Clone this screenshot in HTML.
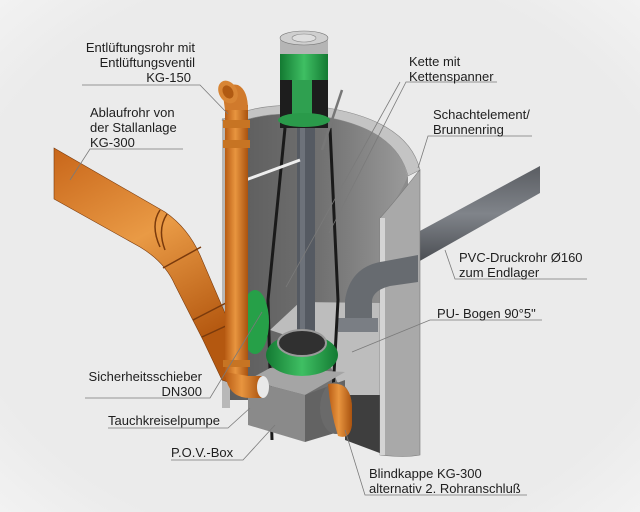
<!DOCTYPE html>
<html><head><meta charset="utf-8"><style>
html,body{margin:0;padding:0;}
body{width:640px;height:512px;overflow:hidden;background:#ececec;}
svg{display:block;}
text{font-family:"Liberation Sans",sans-serif;font-size:13px;fill:#1e1e1e;}
</style></head><body>
<svg width="640" height="512" viewBox="0 0 640 512" xmlns="http://www.w3.org/2000/svg">
<defs>
<radialGradient id="bg" cx="50%" cy="50%" r="75%"><stop offset="0.75" stop-color="#ebebeb"/><stop offset="1" stop-color="#f4f4f4"/></radialGradient>
<linearGradient id="org" x1="0" x2="1"><stop offset="0" stop-color="#b85c14"/><stop offset="0.45" stop-color="#e8953f"/><stop offset="1" stop-color="#a9520f"/></linearGradient>
<linearGradient id="orgd" x1="0" y1="0" x2="0.4" y2="1"><stop offset="0" stop-color="#c8661a"/><stop offset="0.5" stop-color="#e99a45"/><stop offset="1" stop-color="#b45810"/></linearGradient>
<linearGradient id="wallin" x1="0" x2="1"><stop offset="0" stop-color="#5c5c5c"/><stop offset="0.5" stop-color="#707070"/><stop offset="1" stop-color="#9a9a9a"/></linearGradient>
<linearGradient id="grn" x1="0" x2="1"><stop offset="0" stop-color="#137a32"/><stop offset="0.5" stop-color="#3fbf63"/><stop offset="1" stop-color="#137a32"/></linearGradient>
<linearGradient id="gp" x1="0" y1="0" x2="0" y2="1"><stop offset="0" stop-color="#5a5d62"/><stop offset="0.5" stop-color="#80848a"/><stop offset="1" stop-color="#4a4d52"/></linearGradient>
</defs>
<rect width="640" height="512" fill="url(#bg)"/>

<polygon points="418,232 540,166 540,193 418,262" fill="url(#gp)"/>
<rect x="222" y="118" width="8" height="290" fill="#b8b8b8"/>
<path d="M230,124 Q265,108 320,116 Q398,128 408,178 L408,400 L230,400 Z" fill="url(#wallin)"/>
<path d="M222,120 Q262,100 322,107 Q408,120 420,170 L408,176 Q396,128 320,116 Q265,109 230,126 Z" fill="#c4c4c4" stroke="#888" stroke-width="0.6"/>
<path d="M408,176 L408,440 Q392,440 385,420 L385,215 Q400,195 408,176 Z" fill="#8c8c8c"/>
<polygon points="270,330 300,302 380,303 395,330 385,400 345,400 330,365 300,340" fill="#bdbdbd"/>
<polygon points="345,395 385,395 385,455 345,440" fill="#3e3e3e"/>
<path d="M380,218 Q392,205 418,172 L420,170 L420,455 Q405,458 380,455 Z" fill="#a9a9a9" stroke="#777" stroke-width="0.6"/>
<rect x="380" y="218" width="5" height="237" fill="#d4d4d4"/>
<path d="M418,255 L380,262 Q350,268 345,300 L345,330 L372,330 L372,300 Q374,290 390,286 L418,282 Z" fill="#676b70"/>
<rect x="338" y="318" width="40" height="14" fill="#7a7e84"/>
<rect x="297" y="128" width="18" height="210" fill="#555a62"/>
<rect x="300" y="128" width="5" height="210" fill="#6d727a"/>
<path d="M285,128 L268,300 L272,440 M330,128 L338,300 L332,410" stroke="#1a1a1a" stroke-width="3" fill="none"/>
<line x1="232" y1="185" x2="300" y2="160" stroke="#eee" stroke-width="3"/>
<line x1="322" y1="150" x2="342" y2="90" stroke="#777" stroke-width="2.5"/>
<polygon points="248,380 270,368 345,372 305,395" fill="#a5a5a5"/>
<polygon points="248,380 305,395 305,442 248,425" fill="#8a8a8a"/>
<polygon points="305,395 345,380 345,430 305,442" fill="#636363"/>
<ellipse cx="336" cy="408" rx="16" ry="26" fill="#6a6a6a"/>
<path d="M328,384 Q350,380 352,405 L352,425 Q350,440 338,436 Q330,410 328,384 Z" fill="url(#org)"/>
<ellipse cx="255" cy="322" rx="14" ry="32" fill="#26a048"/>
<ellipse cx="302" cy="355" rx="36" ry="21" fill="url(#grn)"/>
<ellipse cx="302" cy="343" rx="24" ry="13" fill="#303030" stroke="#999" stroke-width="2"/>
<!-- drain pipe -->
<path d="M54,148 L165,212 Q188,228 200,255 L228,320 L228,382 L222,380 L203,340 L175,285 Q165,262 140,247 L54,199 Z" fill="url(#orgd)" stroke="#7a3a0c" stroke-width="0.6"/>
<path d="M160,210 Q150,225 160,247 M167,214 Q157,229 165,250 M163,268 L201,247 M193,320 L226,303 M202,337 L228,325" stroke="#7a3a0c" stroke-width="1.5" fill="none"/>
<!-- vent pipe -->
<rect x="225" y="105" width="23" height="272" fill="url(#org)"/>
<rect x="223" y="120" width="27" height="8" fill="#c77423"/>
<rect x="223" y="140" width="27" height="8" fill="#c77423"/>
<rect x="223" y="360" width="27" height="7" fill="#c77423"/>
<path d="M225,372 Q227,398 250,398 L262,398 L262,376 L248,376 Z" fill="url(#org)"/>
<ellipse cx="263" cy="387" rx="6" ry="11" fill="#e9e9e9"/>
<path d="M225,110 L223,95 Q225,82 238,85 Q248,90 248,110 Z" fill="#d07a2c"/>
<ellipse cx="228" cy="92" rx="9" ry="12" fill="#d88534" transform="rotate(-30 228 92)"/>
<ellipse cx="228" cy="92" rx="5" ry="7" fill="#b05a12" transform="rotate(-30 228 92)"/>
<!-- motor -->
<rect x="280" y="45" width="48" height="83" fill="#1d1d1d"/>
<rect x="292" y="80" width="20" height="35" fill="#2fa050"/>
<rect x="280" y="52" width="48" height="28" fill="url(#grn)"/>
<rect x="280" y="38" width="48" height="16" fill="#b5b5b5"/>
<ellipse cx="304" cy="38" rx="24" ry="7" fill="#cfcfcf" stroke="#777" stroke-width="0.6"/>
<ellipse cx="304" cy="38" rx="12" ry="4" fill="#dedede" stroke="#888" stroke-width="0.6"/>
<ellipse cx="304" cy="120" rx="26" ry="7" fill="#2a9a4a"/>

<g stroke="#7a7a7a" stroke-width="0.8" fill="none">
<polyline points="82,85 200,85 228,114"/>
<polyline points="183,149 90,149 70,180"/>
<polyline points="497,82 406,82 329,233"/>
<line x1="400" y1="82" x2="286" y2="287"/>
<polyline points="532,136 428,136 418,168"/>
<polyline points="587,279 455,279 445,250"/>
<polyline points="542,320 430,320 352,352"/>
<polyline points="85,398 210,398 262,312"/>
<polyline points="108,428 228,428 250,408"/>
<polyline points="171,460 243,460 275,425"/>
<polyline points="527,495 365,495 345,430"/>
</g>

<text x="195" y="52" text-anchor="end">Entlüftungsrohr mit</text>
<text x="195" y="67" text-anchor="end">Entlüftungsventil</text>
<text x="191" y="82" text-anchor="end">KG-150</text>
<text x="90" y="117">Ablaufrohr von</text>
<text x="90" y="132">der Stallanlage</text>
<text x="90" y="147">KG-300</text>
<text x="409" y="66">Kette mit</text>
<text x="409" y="81">Kettenspanner</text>
<text x="433" y="119">Schachtelement/</text>
<text x="433" y="134">Brunnenring</text>
<text x="459" y="262">PVC-Druckrohr Ø160</text>
<text x="459" y="277">zum Endlager</text>
<text x="437" y="318">PU- Bogen 90°5"</text>
<text x="202" y="381" text-anchor="end">Sicherheitsschieber</text>
<text x="202" y="396" text-anchor="end">DN300</text>
<text x="108" y="425">Tauchkreiselpumpe</text>
<text x="171" y="457">P.O.V.-Box</text>
<text x="369" y="478">Blindkappe KG-300</text>
<text x="369" y="493">alternativ 2. Rohranschluß</text>
</svg>
</body></html>
